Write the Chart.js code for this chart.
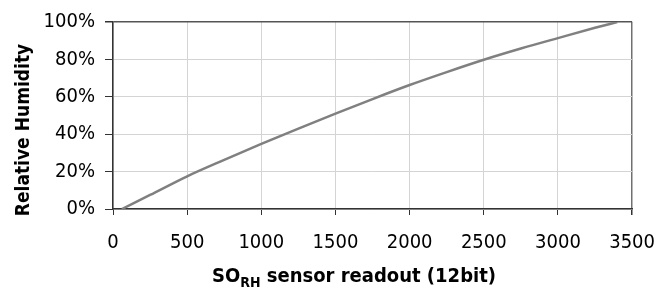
<!DOCTYPE html>
<html>
<head>
<meta charset="utf-8">
<script src="https://cdn.jsdelivr.net/npm/chart.js@4/dist/chart.umd.min.js"></script>
<style>
  html, body { margin: 0; padding: 0; background: #fff; }
  #wrap { position: relative; width: 671px; height: 291px; }
  #xtitle {
    position: absolute; left: 113px; width: 482px; top: 264px;
    text-align: center; font: bold 20px "Liberation Sans Narrow", "Arial Narrow", "DejaVu Sans Condensed", sans-serif;
    color: #000; line-height: 22px;
  }
  #xtitle sub { font-size: 14px; vertical-align: -5px; line-height: 0; }
</style>
</head>
<body>
<div id="wrap">
  <canvas id="chart" width="671" height="291"></canvas>
  <div id="xtitle">SO<sub>RH</sub> sensor readout (12bit)</div>
</div>
<script>
// values
const readout = [60, 250, 500, 750, 1000, 1250, 1500, 1750, 2000, 2250, 2500, 2750, 3000, 3250, 3400];
const humidity = [0, 7.5, 17.5, 26.3, 34.8, 43, 51, 58.8, 66.3, 73.2, 79.8, 85.8, 91.4, 96.9, 100];
const xTicks = [0, 500, 1000, 1500, 2000, 2500, 3000, 3500];
const yTicks = [0, 20, 40, 60, 80, 100];
const yTitle = 'Relative Humidity';

const FONT = '"Liberation Sans Narrow", "Arial Narrow", "DejaVu Sans Condensed", sans-serif';

const points = readout.map((x, i) => ({ x: x, y: humidity[i] }));

// vertical axis title, drawn a little below the middle like the original
const yTitlePlugin = {
    id: 'yTitle',
    afterDraw(chart) {
        const ctx = chart.ctx;
        ctx.save();
        ctx.translate(24, 130);
        ctx.rotate(-Math.PI / 2);
        ctx.font = 'bold 19px ' + FONT;
        ctx.fillStyle = '#000';
        ctx.textAlign = 'center';
        ctx.textBaseline = 'middle';
        ctx.fillText(yTitle, 0, 0);
        ctx.restore();
    }
};

new Chart(document.getElementById('chart'), {
    type: 'scatter',
    data: {
        datasets: [{
            data: points,
            showLine: true,
            borderColor: '#808080',
            borderWidth: 2.5,
            pointRadius: 0,
            cubicInterpolationMode: 'monotone'
        }]
    },
    options: {
        responsive: false,
        animation: false,
        layout: { padding: { top: 21, right: 38, left: 0, bottom: 0 } },
        plugins: { legend: { display: false }, tooltip: { enabled: false } },
        scales: {
            x: {
                type: 'linear',
                min: xTicks[0],
                max: xTicks[xTicks.length - 1],
                afterBuildTicks: s => { s.ticks = xTicks.map(v => ({ value: v })); },
                afterFit: s => { s.height = 82; },
                grid: {
                    color: c => c.tick && c.tick.value === 3500 ? '#707070' : '#d4d4d4',
                    lineWidth: c => c.tick && c.tick.value === 3500 ? 1.5 : 1,
                    tickColor: '#333',
                    tickLength: 6
                },
                border: { color: '#333', width: 1.5 },
                ticks: { color: '#000', font: { family: FONT, size: 20 }, padding: 16, maxRotation: 0, callback: v => String(v) }
            },
            y: {
                min: 0,
                max: 100,
                afterBuildTicks: s => { s.ticks = yTicks.map(v => ({ value: v })); },
                afterFit: s => { s.width = 113; },
                grid: {
                    color: c => c.tick && c.tick.value === 100 ? '#555' : '#d4d4d4',
                    lineWidth: c => c.tick && c.tick.value === 100 ? 1.5 : 1,
                    tickColor: '#333',
                    tickLength: 8
                },
                border: { color: '#333', width: 1.5 },
                ticks: { color: '#000', font: { family: FONT, size: 20 }, padding: 10, callback: v => v + '%' }
            }
        }
    },
    plugins: [yTitlePlugin]
});
</script>
</body>
</html>
